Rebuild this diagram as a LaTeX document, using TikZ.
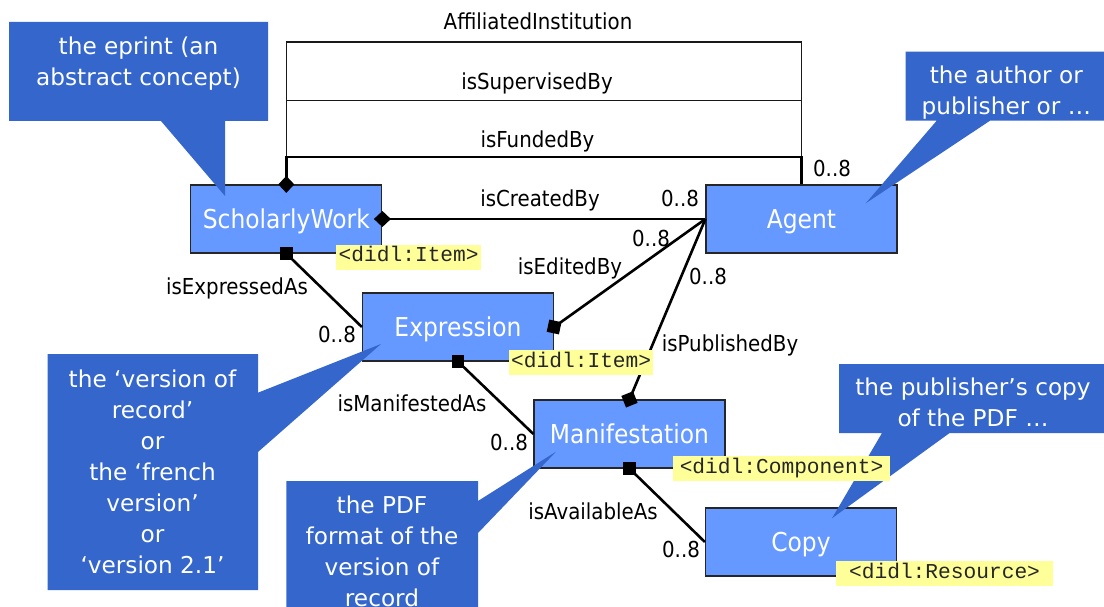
\documentclass[tikz,border=0pt]{standalone}
\usepackage{fontspec}
\usetikzlibrary{arrows.meta}
\newfontfamily\lblfont[FakeStretch=0.9]{DejaVu Sans}
\newfontfamily\calfont{DejaVu Sans}
\newfontfamily\didlfont{Liberation Mono}
\definecolor{boxblue}{RGB}{102,153,255}
\definecolor{callblue}{RGB}{52,102,204}
\definecolor{didlyellow}{RGB}{255,255,153}
\begin{document}
\begin{tikzpicture}[x=1pt,y=-1pt,
  cls/.style={draw=black!85, line width=1.2pt, fill=boxblue, text=white,
    minimum width=191pt, minimum height=68pt, inner sep=0pt,
    font=\lblfont\fontsize{26}{30}\selectfont, text height=19pt, text depth=0pt},
  assoc/.style={line width=2.6pt, draw=black},
  thinassoc/.style={line width=1.3pt, draw=black!90},
  lbl/.style={anchor=base, inner sep=0pt, font=\lblfont\fontsize{22}{26}\selectfont},
  didl/.style={fill=didlyellow, anchor=north west, inner sep=0pt, text=black!85,
    font=\didlfont\fontsize{21.2}{24}\selectfont, text height=14pt, text depth=5pt},
  calltext/.style={text=white, anchor=base, inner sep=0pt,
    font=\calfont\fontsize{23.2}{31}\selectfont},
  dstart/.style={arrows={Diamond[length=17pt,width=16pt]-}, shorten <=-8.5pt},
  sqmark/.style={fill=black, draw=none, minimum size=12.5pt, inner sep=0pt},
]
\useasboundingbox (0,0) rectangle (1104,607);
\clip (0,0) rectangle (1104,607);
\fill[white] (0,0) rectangle (1104,607);

% classes
\node[cls] (sw)    at (286.3,219) {ScholarlyWork};
\node[cls] (agent) at (801.5,219) {Agent};
\node[cls] (expr)  at (458,327)   {Expression};
\node[cls] (manif) at (629.5,434) {Manifestation};
\node[cls] (copy)  at (801,542)   {Copy};

% associations
\coordinate (ai) at (543,42);
\coordinate (sb) at (543,100.7);
\coordinate (fb) at (543,157);
\draw[thinassoc] (sw.north) |- (ai) -| (agent.north);
\draw[thinassoc] (sw.north) |- (sb) -| (agent.north);
\draw[assoc, dstart] (sw.north) |- (fb) -| (agent.north);
\draw[assoc, dstart] (sw.east) -- (agent.west);
\draw[assoc] (expr.east) -- (agent.west);
\draw[assoc] (manif.north) -- (agent.west);
\draw[assoc] (sw.south) -- (expr.west);
\draw[assoc] (expr.south) -- (manif.west);
\draw[assoc] (manif.south) -- (copy.west);

% aggregation markers
\node[sqmark] (q1) at (sw.south) {};
\node[sqmark, rotate=-12] (q2) at (expr.east) {};
\node[sqmark, rotate=22] (q3) at (manif.north) {};
\node[sqmark] (q4) at (expr.south) {};
\node[sqmark] (q5) at (manif.south) {};

% callouts
\fill[callblue] (9,22) -- (268,22) -- (268,121) -- (225,121) -- (225,196) -- (161,121) -- (9,121) -- cycle;
\fill[callblue] (905.7,51.7) -- (1106,51.7) -- (1106,120.7) -- (990,120.7) -- (865.7,203.3) -- (936.7,120.7) -- (905.7,120.7) -- cycle;
\fill[callblue] (47.5,354) -- (258,354) -- (258,392.7) -- (381,344) -- (258,452) -- (258,590) -- (47.5,590) -- cycle;
\fill[callblue] (286.4,481) -- (478,481) -- (478,501) -- (556,451.7) -- (478,533) -- (478,620) -- (286.4,620) -- cycle;
\fill[callblue] (839,364) -- (1107,364) -- (1107,433) -- (949.6,433) -- (832,518.3) -- (882,433) -- (839,433) -- cycle;

\node[calltext] (t1) at (138.5,55) {\begin{tabular}[t]{@{}c@{}}the eprint (an\\abstract concept)\end{tabular}};
\node[calltext] (t2) at (1006.3,83.3) {\begin{tabular}[t]{@{}c@{}}the author or\\publisher or …\end{tabular}};
\node[calltext] (t3) at (152.5,387.3) {\begin{tabular}[t]{@{}c@{}}the ‘version of\\record’\\or\\the ‘french\\version’\\or\\‘version 2.1’\end{tabular}};
\node[calltext] (t4) at (382,513.3) {\begin{tabular}[t]{@{}c@{}}the PDF\\format of the\\version of\\record\end{tabular}};
\node[calltext] (t5) at (973,395) {\begin{tabular}[t]{@{}c@{}}the publisher’s copy\\of the PDF …\end{tabular}};

% didl tags
\node[didl, minimum width=145pt, minimum height=24.3pt] (d1) at (336,245) {<didl:Item>};
\node[didl, minimum width=144pt, minimum height=25pt] (d2) at (509,350) {<didl:Item>};
\node[didl, minimum width=217.3pt, minimum height=25pt] (d3) at (672.7,456) {<didl:Component>};
\node[didl, minimum width=216.7pt, minimum height=24.7pt] (d4) at (836,561) {<didl:Resource>};

% labels
\node[lbl] (l1) at (538,30) {AffiliatedInstitution};
\node[lbl] (l2) at (537,89.3) {isSupervisedBy};
\node[lbl] (l3) at (537.5,147.7) {isFundedBy};
\node[lbl] (l4) at (540,206.7) {isCreatedBy};
\node[lbl] (l5) at (570,274.3) {isEditedBy};
\node[lbl] (l6) at (237,294) {isExpressedAs};
\node[lbl] (l7) at (730,351.7) {isPublishedBy};
\node[lbl] (l8) at (412,411) {isManifestedAs};
\node[lbl] (l9) at (593,519.3) {isAvailableAs};
\node[lbl] (m1) at (832,176.7) {0..8};
\node[lbl] (m2) at (680,206.7) {0..8};
\node[lbl] (m3) at (651,246) {0..8};
\node[lbl] (m4) at (708,284) {0..8};
\node[lbl] (m5) at (337,342.7) {0..8};
\node[lbl] (m6) at (509,450) {0..8};
\node[lbl] (m7) at (681,557.7) {0..8};
\end{tikzpicture}
\end{document}
